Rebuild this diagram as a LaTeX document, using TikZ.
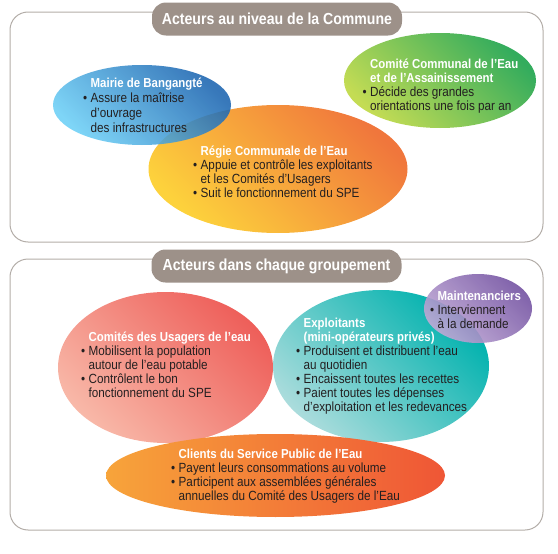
\documentclass[tikz,border=0pt]{standalone}
\usepackage{fontspec}
\setmainfont{Liberation Sans}[FakeStretch=0.88]
\usepackage{xcolor}
\usetikzlibrary{shapes.geometric,positioning}
\definecolor{cadregris}{HTML}{B3ADA8}
\definecolor{bandeaugris}{HTML}{9D9189}
\definecolor{encre}{HTML}{231F20}
\definecolor{mairieClair}{HTML}{6CCFF6}
\definecolor{mairieFonce}{HTML}{1B64B0}
\definecolor{regieClair}{HTML}{FDD23C}
\definecolor{regieFonce}{HTML}{F0763C}
\definecolor{comiteClair}{HTML}{C4DC54}
\definecolor{comiteFonce}{HTML}{33AC5D}
\definecolor{usagersClair}{HTML}{F8B8A8}
\definecolor{usagersFonce}{HTML}{EE5F5A}
\definecolor{exploitClair}{HTML}{AADCDC}
\definecolor{exploitFonce}{HTML}{00B2AE}
\definecolor{maintClair}{HTML}{C0A9D6}
\definecolor{maintFonce}{HTML}{7453A2}
\definecolor{clientsClair}{HTML}{F7A43A}
\definecolor{clientsFonce}{HTML}{EF5636}
\newcommand{\puce}{\makebox[7.5pt][l]{\textbullet}}
\newcommand{\suite}{\hspace*{7.5pt}}
\newcommand{\titre}[1]{\rule{0pt}{10pt}\suite{\fontsize{13}{14}\selectfont\bfseries\color{white}#1}}
\tikzset{
    cadre/.style={
        rectangle,
        draw=cadregris,
        line width=1pt,
        rounded corners=18pt,
        inner sep=0pt
    },
    bandeau/.style={
        rectangle,
        rounded corners=14pt,
        fill=bandeaugris,
        text=white,
        font=\fontsize{16}{18}\selectfont\bfseries,
        minimum width=250pt,
        minimum height=33pt,
        inner sep=0pt
    },
    bulle/.style={ellipse, inner sep=0pt},
    texte/.style={
        anchor=north west,
        align=left,
        inner sep=0pt,
        text=encre,
        font=\fontsize{13.3}{14}\selectfont
    }
}

\begin{document}
\begin{tikzpicture}[x=1pt, y=-1pt]
    \useasboundingbox (0,0) rectangle (558,554);
    % les deux cadres
    \node[cadre, minimum width=533pt, minimum height=230pt] (commune) at (276.5,127) {};
    \node[cadre, minimum width=533pt, minimum height=271pt] (groupement) at (276.5,394.5) {};
    \node[bandeau] (titreCommune) at (277,19) {Acteurs au niveau de la Commune};
    \node[bandeau] (titreGroupement) at (276.5,266) {Acteurs dans chaque groupement};
    % acteurs de la commune
    \node[bulle, minimum width=259pt, minimum height=128pt,
        bottom color=regieClair, top color=regieFonce, shading angle=-45] (regie) at (278,169) {};
    \node[bulle, minimum width=178pt, minimum height=80pt, fill opacity=0.88,
        bottom color=mairieClair, top color=mairieFonce, shading angle=-45] (mairie) at (142,105) {};
    \node[bulle, minimum width=192pt, minimum height=95pt,
        bottom color=comiteClair, top color=comiteFonce, shading angle=-45] (comite) at (440,80.5) {};
    \node[texte, font=\fontsize{13.3}{15}\selectfont] (mairieTxt) at (83,77.5)
        {\titre{Mairie de Bangangté}\\
        \puce Assure la maîtrise\\
        \suite d’ouvrage\\
        \suite des infrastructures};
    \node[texte] (regieTxt) at (193,145.5)
        {\titre{Régie Communale de l’Eau}\\
        \puce Appuie et contrôle les exploitants\\
        \suite et les Comités d’Usagers\\
        \puce Suit le fonctionnement du SPE};
    \node[texte] (comiteTxt) at (362.5,58.5)
        {\titre{Comité Communal de l'Eau}\\
        \titre{et de l’Assainissement}\\
        \puce Décide des grandes\\
        \suite orientations une fois par an};
    % acteurs du groupement
    \node[bulle, minimum width=215pt, minimum height=151pt,
        bottom color=usagersClair, top color=usagersFonce, shading angle=-45] (usagers) at (165.5,367.5) {};
    \node[bulle, minimum width=216pt, minimum height=152pt,
        bottom color=exploitClair, top color=exploitFonce, shading angle=-45] (exploitants) at (381,366) {};
    \node[bulle, minimum width=108pt, minimum height=69pt, fill opacity=0.9,
        bottom color=maintClair, top color=maintFonce, shading angle=-45] (maint) at (478,308.5) {};
    \node[bulle, minimum width=339pt, minimum height=83pt,
        left color=clientsClair, right color=clientsFonce] (clients) at (275.5,475.5) {};
    \node[texte] (usagersTxt) at (81,331.5)
        {\titre{Comités des Usagers de l’eau}\\
        \puce Mobilisent la population\\
        \suite autour de l’eau potable\\
        \puce Contrôlent le bon\\
        \suite fonctionnement du SPE};
    \node[texte] (exploitantsTxt) at (296,317.5)
        {\titre{Exploitants}\\
        \titre{(mini-opérateurs privés)}\\
        \puce Produisent et distribuent l’eau\\
        \suite au quotidien\\
        \puce Encaissent toutes les recettes\\
        \puce Paient toutes les dépenses\\
        \suite d’exploitation et les redevances};
    \node[texte] (maintTxt) at (430,290.5)
        {\titre{Maintenanciers}\\
        \puce Interviennent\\
        \suite à la demande};
    \node[texte] (clientsTxt) at (171,448.5)
        {\titre{Clients du Service Public de l’Eau}\\
        \puce Payent leurs consommations au volume\\
        \puce Participent aux assemblées générales\\
        \suite annuelles du Comité des Usagers de l’Eau};
\end{tikzpicture}
\end{document}
